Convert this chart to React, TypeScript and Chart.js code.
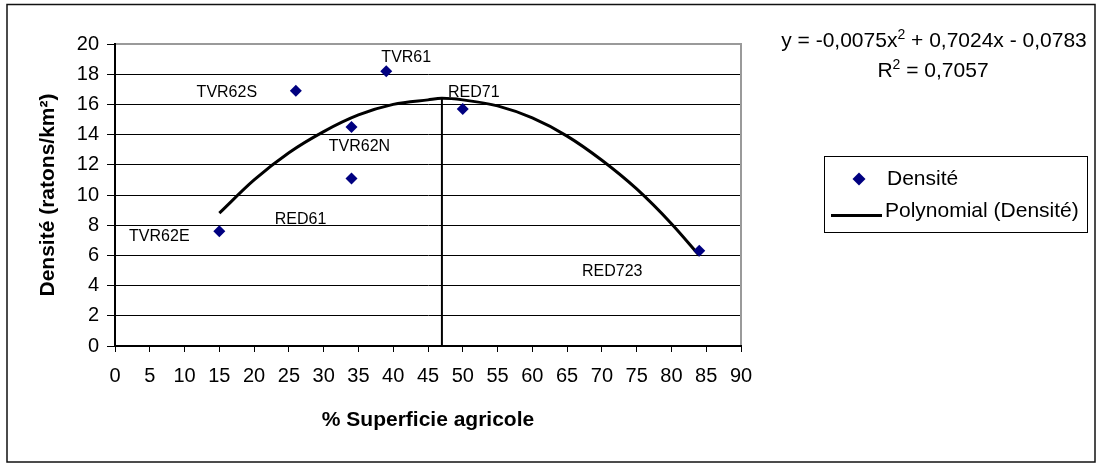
import React, { useEffect, useRef } from "react";
import { Chart, registerables } from "chart.js";

Chart.register(...registerables);

// ---- data ----
const siteNames = ["TVR62E", "TVR62S", "TVR62N", "RED61", "TVR61", "RED71", "RED723"];
const agriPct = [15, 26, 34, 34, 39, 50, 84];
const density = [7.6, 16.9, 14.5, 11.1, 18.2, 15.7, 6.3];

// polynomial trend curve
const trendX = [15, 20, 25, 30, 35, 40, 45, 47, 50, 55, 60, 65, 70, 75, 80, 84];
const trendY = [8.8, 11.0, 12.8, 14.2, 15.3, 16.0, 16.3, 16.4, 16.3, 15.9, 15.1, 13.9, 12.3, 10.4, 8.1, 6.0];

// vertical marker at the curve's maximum
const peakX = [47, 47];
const peakY = [0, 16.4];

const xRange = [0, 90];
const xStep = 5;
const yRange = [0, 20];
const yStep = 2;

const xTitle = "% Superficie agricole";
const yTitle = "Densité (ratons/km²)";
const legendLabels = ["Densité", "Polynomial (Densité)"];
const eqMain = ["y = -0,0075x", "2", " + 0,7024x - 0,0783"];
const eqR2 = ["R", "2", " = 0,7057"];

// label placement (pixel offsets from each point)
const labelOffsets: [number, number][] = [
  [-60, 5],
  [-69, 2],
  [8, 20],
  [-51, 41],
  [20, -14],
  [11, -16],
  [-87, 21],
];

const FONT = "'Liberation Sans', Arial, Helvetica, sans-serif";
const NAVY = "#000080";

function drawSupLine(ctx: CanvasRenderingContext2D, parts: string[], cx: number, baseY: number, size: number) {
  const supSize = Math.round(size * 0.66);
  ctx.font = `${size}px ${FONT}`;
  const w0 = ctx.measureText(parts[0]).width;
  const w2 = ctx.measureText(parts[2]).width;
  ctx.font = `${supSize}px ${FONT}`;
  const w1 = ctx.measureText(parts[1]).width;
  const total = w0 + w1 + w2;
  let x = cx - total / 2;
  ctx.textAlign = "left";
  ctx.textBaseline = "alphabetic";
  ctx.fillStyle = "#000";
  ctx.font = `${size}px ${FONT}`;
  ctx.fillText(parts[0], x, baseY);
  x += w0;
  ctx.font = `${supSize}px ${FONT}`;
  ctx.fillText(parts[1], x, baseY - size * 0.4);
  x += w1;
  ctx.font = `${size}px ${FONT}`;
  ctx.fillText(parts[2], x, baseY);
}

const decorPlugin = {
  id: "decor",
  beforeDraw(chart: any) {
    const ctx = chart.ctx as CanvasRenderingContext2D;
    ctx.save();
    ctx.fillStyle = "#fff";
    ctx.fillRect(0, 0, chart.width, chart.height);
    ctx.strokeStyle = "#111";
    ctx.lineWidth = 1.5;
    ctx.strokeRect(7, 4.5, 1088, 457.5);
    ctx.restore();
  },
  beforeDatasetsDraw(chart: any) {
    const ctx = chart.ctx as CanvasRenderingContext2D;
    const a = chart.chartArea;
    ctx.save();
    ctx.strokeStyle = "#9a9a9a";
    ctx.lineWidth = 2;
    ctx.beginPath();
    ctx.moveTo(a.left + 1, a.top);
    ctx.lineTo(a.right, a.top);
    ctx.lineTo(a.right, a.bottom - 1);
    ctx.stroke();
    ctx.restore();
  },
  afterDatasetsDraw(chart: any) {
    const ctx = chart.ctx as CanvasRenderingContext2D;
    const meta = chart.getDatasetMeta(0);
    ctx.save();
    ctx.font = `16px ${FONT}`;
    ctx.fillStyle = "#000";
    ctx.textAlign = "center";
    ctx.textBaseline = "middle";
    meta.data.forEach((pt: any, i: number) => {
      const [dx, dy] = labelOffsets[i];
      ctx.fillText(siteNames[i], pt.x + dx, pt.y + dy);
    });
    ctx.restore();
  },
  afterDraw(chart: any) {
    const ctx = chart.ctx as CanvasRenderingContext2D;
    ctx.save();
    // trendline equation
    drawSupLine(ctx, eqMain, 934, 47, 21);
    drawSupLine(ctx, eqR2, 933, 77, 21);

    // legend
    ctx.strokeStyle = "#000";
    ctx.lineWidth = 1;
    ctx.strokeRect(824.5, 156.5, 263, 76);
    // diamond
    ctx.fillStyle = NAVY;
    ctx.beginPath();
    ctx.moveTo(859, 172.5);
    ctx.lineTo(865.5, 179);
    ctx.lineTo(859, 185.5);
    ctx.lineTo(852.5, 179);
    ctx.closePath();
    ctx.fill();
    // line
    ctx.strokeStyle = "#000";
    ctx.lineWidth = 3;
    ctx.beginPath();
    ctx.moveTo(831, 215.5);
    ctx.lineTo(882, 215.5);
    ctx.stroke();
    ctx.fillStyle = "#000";
    ctx.font = `21px ${FONT}`;
    ctx.textAlign = "left";
    ctx.textBaseline = "alphabetic";
    ctx.fillText(legendLabels[0], 887, 185);
    ctx.fillText(legendLabels[1], 885, 217);
    ctx.restore();
  },
};

export default function App() {
  const ref = useRef<HTMLCanvasElement>(null);

  useEffect(() => {
    const canvas = ref.current;
    if (!canvas) return;
    const chart = new Chart(canvas, {
      type: "scatter",
      data: {
        datasets: [
          {
            label: legendLabels[0],
            data: agriPct.map((x, i) => ({ x, y: density[i] })),
            pointStyle: "rectRot",
            pointRadius: 6,
            pointHoverRadius: 6,
            backgroundColor: NAVY,
            borderColor: NAVY,
            borderWidth: 0,
          } as any,
          {
            label: legendLabels[1],
            type: "line",
            data: trendX.map((x, i) => ({ x, y: trendY[i] })),
            borderColor: "#000",
            borderWidth: 3,
            pointRadius: 0,
            fill: false,
            cubicInterpolationMode: "monotone",
            showLine: true,
          } as any,
          {
            label: "max",
            type: "line",
            data: peakX.map((x, i) => ({ x, y: peakY[i] })),
            borderColor: "#000",
            borderWidth: 2,
            pointRadius: 0,
            fill: false,
            tension: 0,
            showLine: true,
          } as any,
        ],
      },
      options: {
        responsive: false,
        animation: false,
        devicePixelRatio: 1,
        events: [],
        layout: { padding: { left: 0, top: 44, right: 358, bottom: 17 } },
        plugins: {
          legend: { display: false },
          tooltip: { enabled: false },
          title: { display: false },
        },
        scales: {
          x: {
            type: "linear",
            min: xRange[0],
            max: xRange[1],
            ticks: {
              stepSize: xStep,
              color: "#000",
              font: { family: FONT, size: 20 },
              padding: 12,
              maxRotation: 0,
              autoSkip: false,
            },
            grid: {
              drawOnChartArea: false,
              drawTicks: true,
              tickLength: 6,
              color: "#000",
              lineWidth: 1,
            },
            border: { color: "#000", width: 2 },
            title: {
              display: true,
              text: xTitle,
              color: "#000",
              font: { family: FONT, size: 21, weight: "bold" },
              padding: { top: 0, bottom: 13 },
            },
            afterFit: (s: any) => {
              s.height = 100;
            },
          },
          y: {
            type: "linear",
            min: yRange[0],
            max: yRange[1],
            ticks: {
              stepSize: yStep,
              color: "#000",
              font: { family: FONT, size: 20 },
              padding: 8,
            },
            grid: {
              drawTicks: true,
              tickLength: 8,
              color: "#000",
              lineWidth: 1,
            },
            border: { color: "#000", width: 2 },
            title: {
              display: true,
              text: yTitle,
              color: "#000",
              font: { family: FONT, size: 21, weight: "bold" },
              padding: { top: 36, bottom: 0 },
            },
            afterFit: (s: any) => {
              s.width = 115;
            },
          },
        },
      } as any,
      plugins: [decorPlugin],
    });
    return () => chart.destroy();
  }, []);

  return (
    <div style={{ position: "absolute", left: 0, top: 0, width: 1099, height: 463, background: "#fff" }}>
      <canvas ref={ref} width={1099} height={463} style={{ display: "block", width: 1099, height: 463 }} />
    </div>
  );
}
